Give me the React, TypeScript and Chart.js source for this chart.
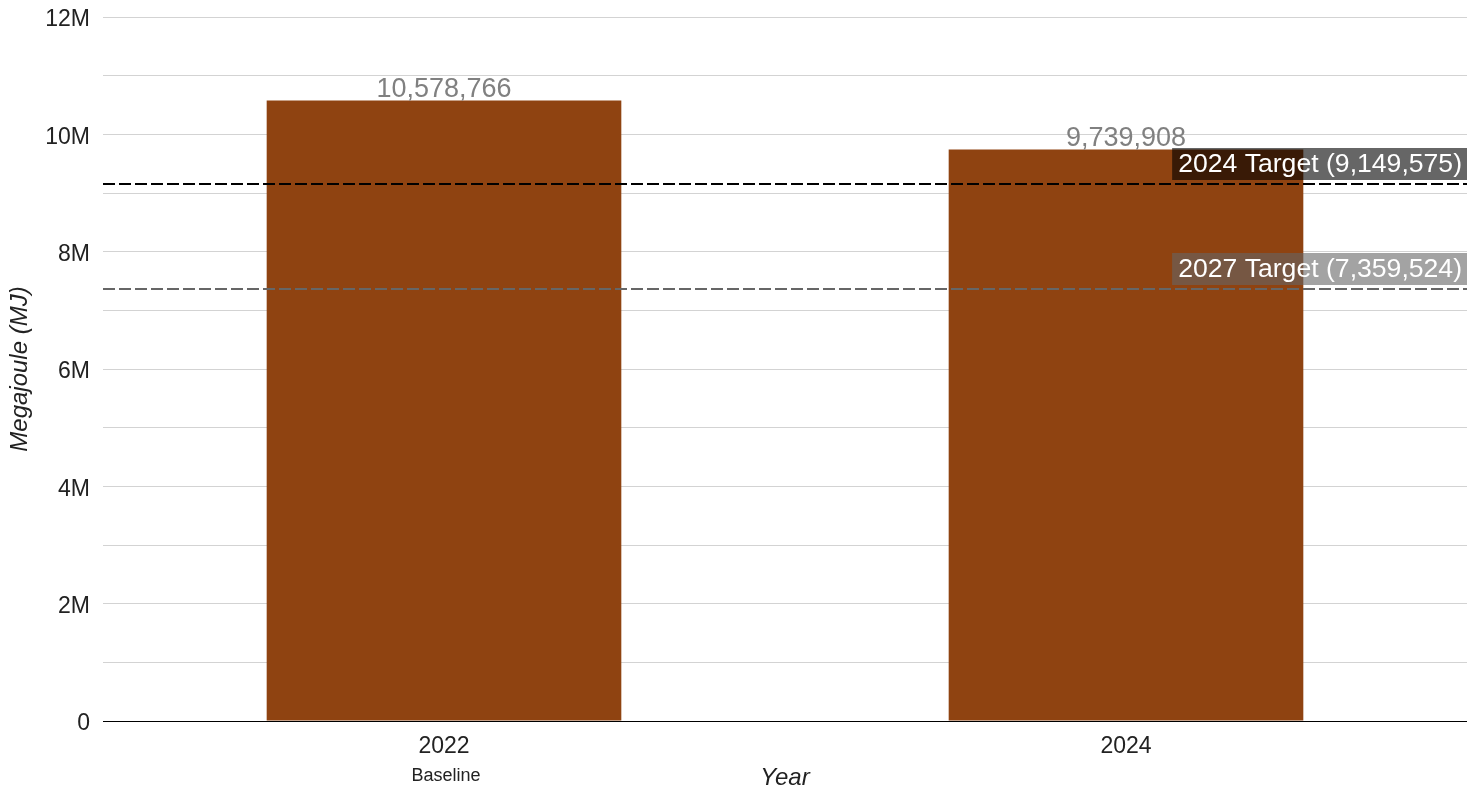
import React, { useEffect, useRef } from "react";
import { Chart, registerables } from "chart.js";

Chart.register(...registerables);

const categories = ["2022", "2024"];
const subLabels = ["Baseline", ""];
const energyValues = [10578766, 9739908];
const targetNames = ["2024 Target", "2027 Target"];
const targetValues = [9149575, 7359524];
const targetLineColors = ["#000000", "#666666"];
const targetBoxColors = ["rgba(0,0,0,0.6)", "rgba(102,102,102,0.6)"];
const yTickStep = 1000000;
const yMax = 12000000;

const FONT = "'Liberation Sans', Arial, sans-serif";

const fmt = (v: number) => v.toLocaleString("en-US");

const overlayPlugin = {
  id: "overlay",
  afterDatasetsDraw(chart: any) {
    const ctx = chart.ctx;
    const area = chart.chartArea;
    const y = chart.scales.y;
    const x = chart.scales.x;
    const meta = chart.getDatasetMeta(0);

    // data labels
    ctx.save();
    ctx.font = `27px ${FONT}`;
    ctx.fillStyle = "#808080";
    ctx.textAlign = "center";
    ctx.textBaseline = "middle";
    meta.data.forEach((bar: any, i: number) => {
      ctx.fillText(fmt(energyValues[i]), bar.x, bar.y - 11);
    });
    ctx.restore();

    // target lines
    targetValues.forEach((tv, i) => {
      const py = Math.round(y.getPixelForValue(tv));
      ctx.save();
      ctx.strokeStyle = targetLineColors[i];
      ctx.lineWidth = 2;
      ctx.setLineDash([12, 4]);
      ctx.beginPath();
      ctx.moveTo(area.left, py);
      ctx.lineTo(area.right, py);
      ctx.stroke();
      ctx.restore();

      const text = `${targetNames[i]} (${fmt(tv)})`;
      ctx.save();
      ctx.font = `26.6px ${FONT}`;
      const w = ctx.measureText(text).width;
      const boxW = w + 11;
      const boxH = 32;
      const bx = area.right - boxW;
      const by = py - 4 - boxH;
      ctx.fillStyle = targetBoxColors[i];
      ctx.fillRect(bx, by, boxW, boxH);
      ctx.fillStyle = "#ffffff";
      ctx.textAlign = "left";
      ctx.textBaseline = "middle";
      ctx.fillText(text, bx + 6, by + boxH / 2 + 1);
      ctx.restore();
    });

    // sub labels under x ticks
    ctx.save();
    ctx.font = `18px ${FONT}`;
    ctx.fillStyle = "#222222";
    ctx.textAlign = "center";
    ctx.textBaseline = "middle";
    subLabels.forEach((s, i) => {
      if (s) ctx.fillText(s, x.getPixelForValue(i) + 2, 776);
    });
    ctx.restore();
  },
};

export default function App() {
  const canvasRef = useRef<HTMLCanvasElement | null>(null);

  useEffect(() => {
    document.body.style.margin = "0";
    const canvas = canvasRef.current;
    if (!canvas) return;
    const chart = new Chart(canvas, {
      type: "bar",
      data: {
        labels: categories,
        datasets: [
          {
            label: "Megajoule",
            data: energyValues,
            backgroundColor: "#8F4311",
            borderWidth: 0,
            barPercentage: 0.52,
            categoryPercentage: 1,
          },
        ],
      },
      options: {
        animation: false,
        responsive: true,
        maintainAspectRatio: false,
        layout: { padding: { top: 17, right: 17, left: 0, bottom: 0 } },
        plugins: {
          legend: { display: false },
          tooltip: { enabled: false },
        },
        scales: {
          x: {
            grid: { display: false, drawTicks: false },
            border: { display: false },
            ticks: {
              color: "#222222",
              font: { family: FONT, size: 23 },
              padding: 12,
              maxRotation: 0,
            },
            title: {
              display: true,
              text: "Year",
              color: "#222222",
              font: { family: FONT, size: 24, style: "italic" },
              padding: { top: 4, bottom: 4 },
            },
            afterFit(scale: any) {
              scale.height = 76;
              scale.paddingLeft = 0;
              scale.paddingRight = 0;
            },
          },
          y: {
            min: 0,
            max: yMax,
            grid: {
              drawTicks: false,
              color: (c: any) => (c.tick && c.tick.value === 0 ? "#000000" : "#d3d3d3"),
              lineWidth: 1,
            },
            border: { display: false },
            ticks: {
              stepSize: yTickStep,
              color: "#222222",
              font: { family: FONT, size: 23 },
              padding: 13,
              labelOffset: 3,
              autoSkip: false,
              callback: (v: any) => {
                const n = Number(v);
                if (n === 0) return "0";
                if ((n / yTickStep) % 2 !== 0) return "";
                return `${n / 1000000}M`;
              },
            },
            title: {
              display: true,
              text: "Megajoule (MJ)",
              color: "#222222",
              font: { family: FONT, size: 24, style: "italic" },
              padding: { top: 6, bottom: 6 },
            },
            afterFit(scale: any) {
              scale.width = 103;
              scale.paddingTop = 0;
              scale.paddingBottom = 0;
            },
          },
        },
      },
      plugins: [overlayPlugin],
    });
    return () => chart.destroy();
  }, []);

  return (
    <div style={{ width: 1484, height: 797, position: "relative" }}>
      <canvas ref={canvasRef} />
    </div>
  );
}
